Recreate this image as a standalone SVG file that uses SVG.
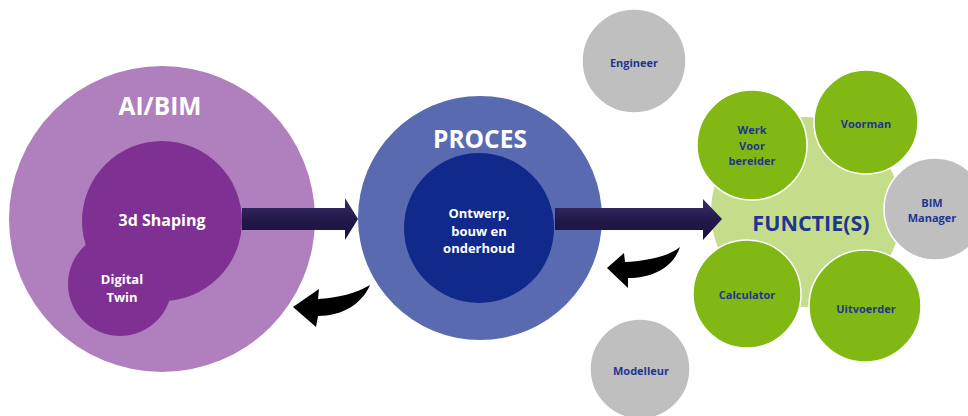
<svg xmlns="http://www.w3.org/2000/svg" width="968" height="416" viewBox="0 0 968 416">
<defs>
<linearGradient id="arrowGrad" x1="0" y1="0" x2="0" y2="1">
<stop offset="0" stop-color="#3b3070"/>
<stop offset="0.5" stop-color="#221849"/>
<stop offset="1" stop-color="#1c1340"/>
</linearGradient>
<style>
text{font-family:"Open Sans","Noto Sans","DejaVu Sans",sans-serif;font-weight:bold;text-anchor:middle;dominant-baseline:central}
.w{fill:#ffffff}
.b{fill:#1f3590}
.green{fill:#82b814;stroke:#ffffff;stroke-width:1.5}
.gray{fill:#bfbfbf;stroke:#ffffff;stroke-width:1.5}
.big{font-size:24.5px}
.fn{font-size:21.5px}
.mid{font-size:16px}
.sm{font-size:13px}
.xs{font-size:11px}
</style>
</defs>
<rect width="968" height="416" fill="#ffffff"/>

<g id="aibim">
<circle cx="162" cy="219" r="153" fill="#b07fbd"/>
<text class="w big" x="160" y="105">AI/BIM</text>
</g>
<g id="shaping">
<circle cx="162" cy="221" r="80" fill="#7f3193"/>
<text class="w mid" x="162" y="220">3d Shaping</text>
</g>
<g id="digitaltwin">
<circle cx="120" cy="284" r="52" fill="#7f3193"/>
<text class="w sm" x="122" y="279">Digital</text>
<text class="w sm" x="122" y="297">Twin</text>
</g>

<g id="proces">
<circle cx="480" cy="218" r="122" fill="#5a6ab1"/>
<text class="w big" x="480" y="138">PROCES</text>
</g>
<g id="ontwerp">
<circle cx="479" cy="228" r="75" fill="#10298a"/>
<text class="w sm" x="479" y="213">Ontwerp,</text>
<text class="w sm" x="479" y="231">bouw en</text>
<text class="w sm" x="479" y="248">onderhoud</text>
</g>

<g id="engineer">
<circle class="gray" cx="634" cy="61" r="52"/>
<text class="b xs" x="634" y="62">Engineer</text>
</g>
<g id="modelleur">
<circle class="gray" cx="640" cy="369" r="50"/>
<text class="b xs" x="641" y="370">Modelleur</text>
</g>

<g id="functies">
<circle cx="806" cy="212" r="95" fill="#c3dd8b"/>
<text class="b fn" x="811" y="222">FUNCTIE(S)</text>
</g>
<g id="werkvoorbereider">
<circle class="green" cx="752" cy="145" r="55"/>
<text class="b xs" x="752" y="129">Werk</text>
<text class="b xs" x="752" y="145">Voor</text>
<text class="b xs" x="752" y="160">bereider</text>
</g>
<g id="voorman">
<circle class="green" cx="866" cy="122" r="52"/>
<text class="b xs" x="866" y="123">Voorman</text>
</g>
<g id="bimmanager">
<circle class="gray" cx="935" cy="209" r="51"/>
<text class="b xs" x="932" y="202">BIM</text>
<text class="b xs" x="932" y="217">Manager</text>
</g>
<g id="calculator">
<circle class="green" cx="747" cy="294" r="54"/>
<text class="b xs" x="747" y="294">Calculator</text>
</g>
<g id="uitvoerder">
<circle class="green" cx="865" cy="306" r="56"/>
<text class="b xs" x="866" y="308">Uitvoerder</text>
</g>

<g id="connectors">
<path d="M242,208 H345 V198 L358,219 L345,240 V230 H242 Z" fill="url(#arrowGrad)"/>
<path d="M555,208 H703 V199 L722,219 L703,240 V230 H555 Z" fill="url(#arrowGrad)"/>
<path d="M293,307 L319,289 L318,299 C337,298 357,293 370,285 C362,304 342,316 318,316 L316,327 Z" fill="#000000"/>
<path d="M607,268 L624,253 L625,262 C645,261 668,257 680,247 C673,268 652,278 628,278 L628,288 Z" fill="#000000"/>
</g>
</svg>
